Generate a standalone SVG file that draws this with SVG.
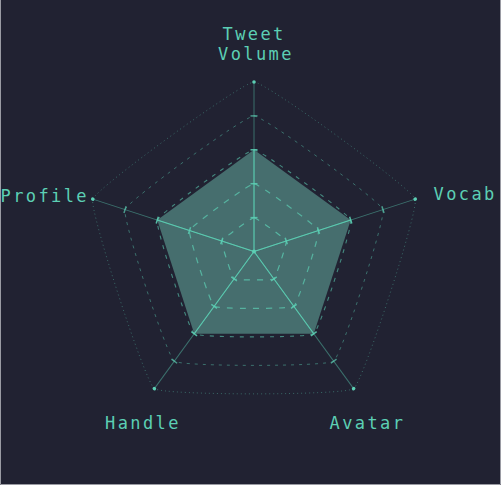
<svg xmlns="http://www.w3.org/2000/svg" width="501" height="485" viewBox="0 0 501 485">
<style>
.lbl{font-family:"DejaVu Sans Mono","Liberation Mono",monospace;font-size:17px;letter-spacing:2.4px;fill:#5ccfb4}
.ring{fill:none;stroke:#5ccfb4}
.axis-dim{stroke:#5ccfb4;stroke-opacity:0.45;stroke-width:1}
.axis-in{stroke:#5ccfb4;stroke-opacity:0.9;stroke-width:1}
.tick{stroke:#5ccfb4;stroke-width:1.5}
.dot{fill:#5ccfb4}
</style>
<defs>
<g id="spoke">
<line class="axis-dim" x1="0" y1="0" x2="169.5" y2="0"/>
<line class="axis-in" x1="0" y1="0" x2="101.7" y2="0"/>
<line class="tick" x1="33.9" y1="-3.5" x2="33.9" y2="3.5" stroke-opacity="0.85"/>
<line class="tick" x1="67.8" y1="-3.5" x2="67.8" y2="3.5" stroke-opacity="0.85"/>
<line class="tick" x1="101.7" y1="-3.5" x2="101.7" y2="3.5" stroke-opacity="0.9"/>
<line class="tick" x1="135.6" y1="-3.5" x2="135.6" y2="3.5" stroke-opacity="0.7"/>
<circle class="dot" cx="169.5" cy="0" r="1.8"/>
</g>
</defs>
<rect x="0" y="0" width="501" height="485" fill="#212232"/>
<path d="M0.5,0 V484.5 H500.5 V0" fill="none" stroke="#9a9ba3" stroke-width="1"/>

<g id="data-area">
<polygon points="254,149.8 350.72,220.07 313.78,333.78 194.22,333.78 157.28,220.07" fill="#466e6e"/>
</g>

<g id="grid-rings">
<path class="ring" stroke-opacity="0.75" stroke-width="1.2" stroke-dasharray="6 7" d="M254,217.6 C256.37,217.6 285.51,238.76 286.24,241.02 C286.97,243.28 275.85,277.54 273.93,278.93 C272.01,280.33 235.99,280.33 234.07,278.93 C232.15,277.54 221.03,243.28 221.76,241.02 C222.49,238.76 251.63,217.6 254,217.6Z"/>
<path class="ring" stroke-opacity="0.7" stroke-width="1.2" stroke-dasharray="6 7" d="M254,183.7 C258.75,183.7 317.01,226.04 318.48,230.55 C319.95,235.06 297.69,303.56 293.85,306.35 C290.01,309.14 217.99,309.14 214.15,306.35 C210.31,303.56 188.05,235.06 189.52,230.55 C190.99,226.04 249.25,183.7 254,183.7Z"/>
<path class="ring" stroke-opacity="0.6" stroke-width="1.1" stroke-dasharray="4 6" d="M254,149.8 C260.92,149.8 348.52,213.3 350.72,220.07 C352.92,226.84 319.54,329.59 313.78,333.78 C308.02,337.97 199.98,337.97 194.22,333.78 C188.46,329.59 155.08,226.84 157.28,220.07 C159.48,213.3 247.08,149.8 254,149.8Z"/>
<path class="ring" stroke-opacity="0.45" stroke-width="1" stroke-dasharray="3 5" d="M254,115.9 C263.49,115.9 380.03,200.57 382.96,209.6 C385.89,218.63 341.38,355.62 333.7,361.2 C326.02,366.78 181.98,366.78 174.3,361.2 C166.62,355.62 122.11,218.63 125.04,209.6 C127.97,200.57 244.51,115.9 254,115.9Z"/>
<path class="ring" stroke-opacity="0.4" stroke-width="1" stroke-dasharray="1 3" d="M254,82 C265.87,82 411.53,187.84 415.2,199.12 C418.87,210.4 363.23,381.65 353.63,388.63 C344.03,395.61 163.97,395.61 154.37,388.63 C144.77,381.65 89.13,210.4 92.8,199.12 C96.47,187.84 242.13,82 254,82Z"/>
</g>

<g id="connectors">
<use href="#spoke" transform="translate(254,251.5) rotate(-90)"/>
<use href="#spoke" transform="translate(254,251.5) rotate(-18)"/>
<use href="#spoke" transform="translate(254,251.5) rotate(54)"/>
<use href="#spoke" transform="translate(254,251.5) rotate(126)"/>
<use href="#spoke" transform="translate(254,251.5) rotate(198)"/>
<circle class="dot" cx="254" cy="251.5" r="2"/>
</g>

<g id="node-tweet-volume">
<text class="lbl" x="222.5" y="40">Tweet</text>
<text class="lbl" x="218" y="60">Volume</text>
</g>
<g id="node-vocab">
<text class="lbl" x="433.5" y="199.5">Vocab</text>
</g>
<g id="node-avatar">
<text class="lbl" x="329.5" y="428.5">Avatar</text>
</g>
<g id="node-handle">
<text class="lbl" x="105" y="428.5">Handle</text>
</g>
<g id="node-profile">
<text class="lbl" x="0.5" y="201.5">Profile</text>
</g>
</svg>
